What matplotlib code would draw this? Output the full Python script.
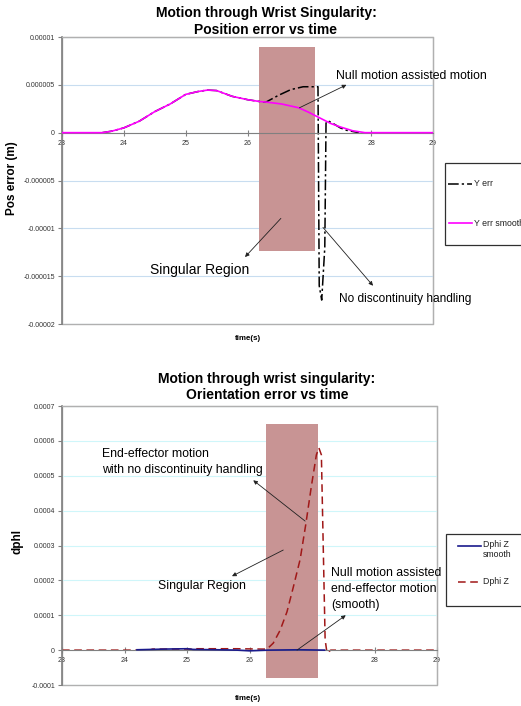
import matplotlib
matplotlib.use('Agg')
import matplotlib.pyplot as plt
from matplotlib.patches import Rectangle
from matplotlib.lines import Line2D

plt.rcParams['font.family'] = ['Liberation Sans', 'DejaVu Sans']

W, H = 521, 706


def fx(x):
    return x / W


def fy(y):
    return 1 - y / H


# ---- position error (top chart)
t_pos_smooth = [23.0, 23.65, 23.8, 24.0, 24.25, 24.5, 24.75, 25.0, 25.2, 25.35,
                25.5, 25.75, 26.0, 26.2, 26.3, 26.55, 26.83, 27.0, 27.12, 27.35,
                27.5, 27.7, 27.9, 29.0]
pos_smooth = [0, 0, 0.15e-6, 0.5e-6, 1.2e-6, 2.2e-6, 3.0e-6, 4.0e-6, 4.3e-6, 4.45e-6,
              4.4e-6, 3.8e-6, 3.45e-6, 3.25e-6, 3.2e-6, 3.0e-6, 2.6e-6, 2.1e-6, 1.7e-6, 0.95e-6,
              0.6e-6, 0.2e-6, 0, 0]

t_pos_err = [23.65, 23.8, 24.0, 24.25, 24.5, 24.75, 25.0, 25.2, 25.35, 25.5,
             25.75, 26.0, 26.2, 26.3, 26.5, 26.7, 26.9, 27.14, 27.16, 27.2,
             27.25, 27.27, 27.3, 27.4, 27.5, 27.6, 27.8]
pos_err = [0, 0.15e-6, 0.5e-6, 1.2e-6, 2.2e-6, 3.0e-6, 4.0e-6, 4.3e-6, 4.45e-6, 4.4e-6,
           3.8e-6, 3.45e-6, 3.25e-6, 3.2e-6, 3.9e-6, 4.5e-6, 4.8e-6, 4.8e-6, -1.6e-5, -1.75e-5,
           -1.2e-5, 1.0e-6, 1.25e-6, 0.9e-6, 0.5e-6, 0.25e-6, 0]

pos_yticks = [0.00001, 0.000005, 0, -0.000005, -0.00001, -0.000015, -0.00002]
pos_ytick_labels = ['0.00001', '0.000005', '0', '-0.000005', '-0.00001', '-0.000015', '-0.00002']
pos_region = (26.19, 27.09, -1.24e-5, 8.96e-6)  # x0, x1, y0, y1

# ---- orientation error (bottom chart)
t_dphi = [23.0, 24.4, 24.45, 25.1, 25.15, 25.8, 26.2, 26.28, 26.38, 26.49,
          26.6, 26.7, 26.81, 26.9, 26.99, 27.07, 27.11, 27.15, 27.21, 27.24,
          27.3, 29.0]
dphi = [0, 0, 0.000003, 0.000003, 0.000004, 0.000004, 0.000003, 0.000003, 0.00002, 0.000057,
        0.00011, 0.00018, 0.00026, 0.00036, 0.00047, 0.00056, 0.00058, 0.00056, 0.00003, -0.000008,
        0, 0]

t_dphi_smooth = [24.2, 24.65, 25.0, 25.1, 25.5, 25.8, 26.0, 26.3, 26.8, 27.2]
dphi_smooth = [0.000001, 0.000003, 0.000004, 0.000002, 0.000001, 0, -0.000002, 0, 0.000001, 0]

ori_yticks = [0.0007, 0.0006, 0.0005, 0.0004, 0.0003, 0.0002, 0.0001, 0, -0.0001]
ori_ytick_labels = ['0.0007', '0.0006', '0.0005', '0.0004', '0.0003', '0.0002', '0.0001', '0', '-0.0001']
ori_region = (26.26, 27.10, -0.00008, 0.000648)

xticks = [23, 24, 25, 26, 27, 28, 29]

region_color = '#C89494'
tick_color = '#333333'


def style_axes(ax, yticks, ylabels, grid_color):
    ax.set_xlim(23, 29)
    ax.set_ylim(yticks[-1], yticks[0])
    ax.set_xticks(xticks)
    ax.set_xticklabels([str(t) for t in xticks])
    ax.set_yticks(yticks)
    ax.set_yticklabels(ylabels)
    ax.spines['bottom'].set_position(('data', 0))
    ax.spines['bottom'].set_color('#808080')
    ax.spines['left'].set_color('#808080')
    ax.spines['left'].set_linewidth(1.2)
    for s in ['top', 'right']:
        ax.spines[s].set_color('#B0B0B0')
    ax.add_patch(Rectangle((0, 0), 1, 1, transform=ax.transAxes, fill=False,
                           edgecolor='#B0B0B0', lw=1.0, clip_on=False, zorder=0.5))
    ax.tick_params(axis='y', direction='out', length=3, labelsize=5, colors='#808080',
                   labelcolor=tick_color, pad=2)
    ax.tick_params(axis='x', direction='inout', length=4, labelsize=5, colors='#808080',
                   labelcolor=tick_color, pad=3)
    ax.yaxis.grid(True, color=grid_color, lw=0.8)
    ax.set_axisbelow(True)


def arrow(ax, start, end):
    ax.annotate('', xy=end, xytext=start,
                arrowprops=dict(arrowstyle='-|>', color='#202020', lw=0.6,
                                mutation_scale=6, shrinkA=0, shrinkB=0))


fig = plt.figure(figsize=(W / 100, H / 100), dpi=100)

# ---------------- top chart
ax1 = fig.add_axes([fx(62), fy(324), fx(433) - fx(62), fy(37) - fy(324)])
style_axes(ax1, pos_yticks, pos_ytick_labels, '#C8DDF0')
x0, x1, y0, y1 = pos_region
ax1.add_patch(Rectangle((x0, y0), x1 - x0, y1 - y0, color=region_color, lw=0, zorder=1))
ax1.plot(t_pos_err, pos_err, color='black', lw=1.1, dashes=(7, 2, 1.5, 2), zorder=2)
ax1.plot(t_pos_smooth, pos_smooth, color='#FF00FF', lw=1.2, zorder=3)

ax1.text(27.43, 5.94e-6, 'Null motion assisted motion', fontsize=8.8, va='center', ha='left')
arrow(ax1, (26.84, 2.6e-6), (27.6, 5.0e-6))
ax1.text(25.23, -1.44e-5, 'Singular Region', fontsize=10, va='center', ha='center')
arrow(ax1, (26.54, -8.96e-6), (25.96, -1.30e-5))
ax1.text(27.48, -1.735e-5, 'No discontinuity handling', fontsize=8.6, va='center', ha='left')
arrow(ax1, (27.22, -9.9e-6), (28.03, -1.6e-5))

fig.text(fx(266), fy(13), 'Motion through Wrist Singularity:', fontsize=10, weight='bold',
         ha='center', va='center')
fig.text(fx(266), fy(30), 'Position error vs time', fontsize=10, weight='bold',
         ha='center', va='center')
fig.text(fx(12), fy(178), 'Pos error (m)', fontsize=8.5, weight='bold', rotation=90,
         ha='center', va='center')
fig.text(fx(248), fy(338), 'time(s)', fontsize=5.7, weight='bold', ha='center', va='center')

# legend (top)
fig.add_artist(Rectangle((fx(445), fy(245)), 0.3, (245 - 163) / H, transform=fig.transFigure,
                         fill=True, facecolor='white', edgecolor='#303030', lw=0.9))
fig.add_artist(Line2D([fx(448), fx(472)], [fy(184), fy(184)], transform=fig.transFigure,
                      color='black', lw=1.1, dashes=(7, 2, 1.5, 2)))
fig.text(fx(474), fy(184), 'Y err', fontsize=6.3, va='center', ha='left', color='#202020')
fig.add_artist(Line2D([fx(449), fx(472)], [fy(223), fy(223)], transform=fig.transFigure,
                      color='#FF00FF', lw=1.2))
fig.text(fx(474), fy(223), 'Y err smooth', fontsize=6.3, va='center', ha='left', color='#202020')

# ---------------- bottom chart
ax2 = fig.add_axes([fx(62), fy(685), fx(437) - fx(62), fy(406) - fy(685)])
style_axes(ax2, ori_yticks, ori_ytick_labels, '#CFF6FA')
x0, x1, y0, y1 = ori_region
ax2.add_patch(Rectangle((x0, y0), x1 - x0, y1 - y0, color=region_color, lw=0, zorder=1))
ax2.plot(t_dphi, dphi, color='#A01818', lw=1.1, dashes=(5, 3), zorder=2)
ax2.plot(t_dphi_smooth, dphi_smooth, color='#1A1A8C', lw=1.2, zorder=3)

ax2.text(23.64, 0.000539, 'End-effector motion\nwith no discontinuity handling', fontsize=8.8,
         va='center', ha='left', linespacing=1.4)
arrow(ax2, (26.89, 0.00037), (26.06, 0.000487))
ax2.text(24.54, 0.000184, 'Singular Region', fontsize=8.8, va='center', ha='left')
arrow(ax2, (26.54, 0.000287), (25.72, 0.000212))
ax2.text(27.3, 0.000175, 'Null motion assisted\nend-effector motion\n(smooth)', fontsize=8.8,
         va='center', ha='left', linespacing=1.4)
arrow(ax2, (26.76, 0.0), (27.54, 0.0001))

fig.text(fx(267), fy(379), 'Motion through wrist singularity:', fontsize=10, weight='bold',
         ha='center', va='center')
fig.text(fx(267), fy(395), 'Orientation error vs time', fontsize=10, weight='bold',
         ha='center', va='center')
fig.text(fx(18), fy(542), 'dphI', fontsize=8.5, weight='bold', rotation=90,
         ha='center', va='center')
fig.text(fx(248), fy(698), 'time(s)', fontsize=5.7, weight='bold', ha='center', va='center')

# legend (bottom)
fig.add_artist(Rectangle((fx(446), fy(606)), 0.3, (606 - 534) / H, transform=fig.transFigure,
                         fill=True, facecolor='white', edgecolor='#303030', lw=0.9))
fig.add_artist(Line2D([fx(458), fx(481)], [fy(546), fy(546)], transform=fig.transFigure,
                      color='#1A1A8C', lw=1.2))
fig.text(fx(483), fy(540), 'Dphi Z\nsmooth', fontsize=6.3, va='top', ha='left', color='#202020',
         linespacing=1.1)
fig.add_artist(Line2D([fx(458), fx(481)], [fy(582), fy(582)], transform=fig.transFigure,
                      color='#A01818', lw=1.1, dashes=(5, 3)))
fig.text(fx(483), fy(582), 'Dphi Z', fontsize=6.3, va='center', ha='left', color='#202020')

fig.savefig('out.png', dpi=100)
